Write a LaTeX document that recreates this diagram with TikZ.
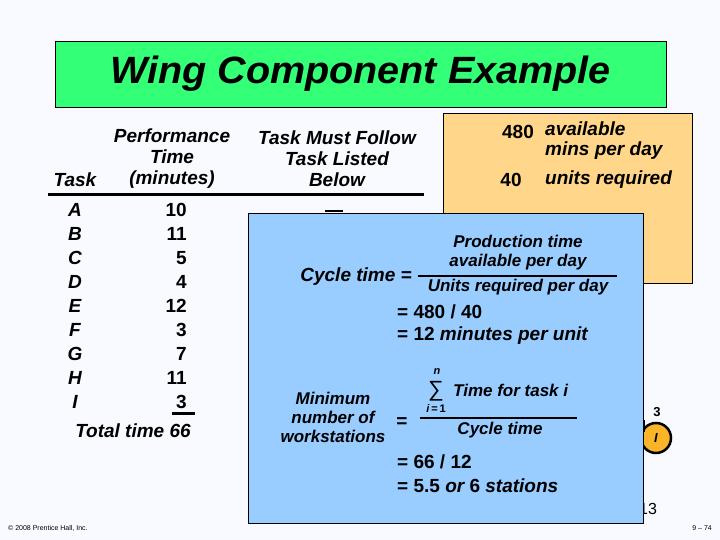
\documentclass[tikz,border=0pt]{standalone}
\usepackage{fontspec}
\setmainfont{Liberation Sans}
\begin{document}
\begin{tikzpicture}[x=1pt,y=-1pt,
  t/.style={font=\bfseries\itshape\fontsize{19}{21}\selectfont,inner sep=0pt},
  tn/.style={font=\bfseries\fontsize{19}{21}\selectfont,inner sep=0pt},
  ts/.style={t,font=\bfseries\itshape\fontsize{17}{19}\selectfont},
  hd/.style={t,align=center,font=\bfseries\itshape\fontsize{19}{21}\selectfont}]
\useasboundingbox (0,0) rectangle (720,540);
\fill[fill={rgb,255:red,248;green,250;blue,255}] (0,0) rectangle (720,540);
% title
\node[draw=black,fill={rgb,255:red,51;green,255;blue,119},minimum width=611,minimum height=66,inner sep=0pt] (title) at (360.5,74) {};
\node[font=\bfseries\itshape\fontsize{38}{40}\selectfont,xscale=1.04] (tt) at (title) {Wing Component Example};
% header
\node[hd] (h1) at (172,159) {Performance\\Time\\(minutes)};
\node[t] (h0) at (75,180) {Task};
\node[hd] (h2) at (337,159) {Task Must Follow\\Task Listed\\Below};
\draw[line width=3pt] (48,195) -- (424,195);
\foreach \l/\v/\y in {A/10/210,B/11/234,C/5/258,D/4/282,E/12/306,F/3/330,G/7/354,H/11/378,I/3/402}{
  \node[t] (r\l) at (75,\y) {\l};
  \node[tn,anchor=east] (v\l) at (187,\y) {\v};
}
\draw[line width=3pt] (172,413) -- (195,413);
\node[t] (tot) at (133,431) {Total time 66};
\draw[line width=2.5pt] (325,211) -- (343,211);
% outside partial items
\node[font=\bfseries\fontsize{13}{14}\selectfont,inner sep=0pt] (n3) at (657,412) {3};
\node[circle,draw=black,line width=2.5pt,fill={rgb,255:red,250;green,180;blue,40},minimum size=30,inner sep=0pt,font=\bfseries\itshape\fontsize{13}{14}\selectfont] (cI) at (656,438) {I};
\draw[line width=2.5pt] (644,420) -- (644,432);
\node[font=\fontsize{16}{17}\selectfont,inner sep=0pt,anchor=west] (n13) at (639,509) {13};
% orange box
\node[draw=black,fill={rgb,255:red,255;green,214;blue,138},minimum width=249,minimum height=170,inner sep=0pt] (ob) at (567.5,198) {};
\node[tn] (o480) at (518,132) {480};
\node[t,align=left,anchor=north west] (oav) at (545,122) {available\\[-1pt]mins per day};
\node[tn] (o40) at (511,180) {40};
\node[t,anchor=west] (our) at (545,180) {units required};
% blue box
\node[draw=black,fill={rgb,255:red,153;green,204;blue,255},minimum width=395,minimum height=310,inner sep=0pt] (bb) at (445.5,368) {};
\node[ts,align=center] (num) at (518,253) {Production time\\available per day};
\draw[line width=2.5pt] (418,276) -- (617,276);
\node[ts] (den) at (518,287) {Units required per day};
\node[t,anchor=east] (ct) at (412,277) {Cycle time =};
\node[tn,anchor=west] (e1) at (397,312) {= 480 / 40};
\node[t,anchor=west] (e2) at (397,336) {\upshape= 12 \itshape minutes per unit};
\node[ts,align=center] (mn) at (333,417) {Minimum\\number of\\workstations};
\node[tn] (eq2) at (402,423) {=};
\node[inner sep=0pt,font=\fontsize{22}{22}\selectfont] (sig) at (436,391) {∑};
\node[t,font=\bfseries\itshape\fontsize{11}{12}\selectfont] (sn) at (437,372) {n};
\node[t,font=\bfseries\itshape\fontsize{11}{12}\selectfont] (si) at (436,409) {i\upshape\,=\,1};
\node[ts,anchor=west] (tft) at (453,390) {Time for task i};
\draw[line width=2.5pt] (420,418) -- (577,418);
\node[ts] (ctd) at (500,430) {Cycle time};
\node[tn,anchor=west] (e3) at (397,462) {= 66 / 12};
\node[t,anchor=west] (e4) at (397,486) {\upshape= 5.5 \itshape or \upshape 6 \itshape stations};
% footer
\node[font=\fontsize{7}{8}\selectfont,anchor=west,inner sep=0pt] (f1) at (8,528) {© 2008 Prentice Hall, Inc.};
\node[font=\fontsize{7}{8}\selectfont,anchor=east,inner sep=0pt] (f2) at (712,528) {9 – 74};
\end{tikzpicture}
\end{document}
